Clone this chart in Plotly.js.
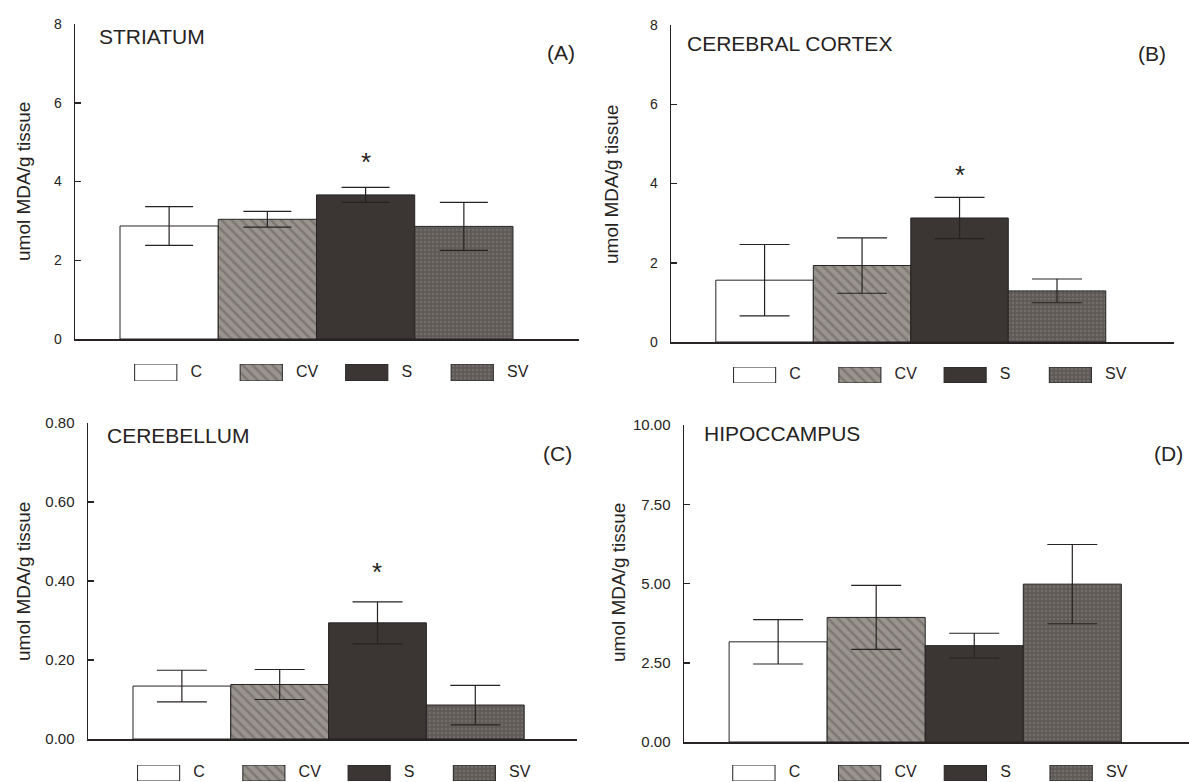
<!DOCTYPE html>
<html>
<head>
<meta charset="utf-8">
<script src="https://cdn.plot.ly/plotly-3.0.1.min.js"></script>
<style>html,body{margin:0;padding:0;background:#fff;}#chart{width:1189px;height:782px;}</style>
</head>
<body>
<div id="chart"></div>
<script>
// ---- data ----
const groups = ['C', 'CV', 'S', 'SV'];
const striatumMean = [2.87, 3.04, 3.66, 2.86];
const striatumErr = [0.49, 0.20, 0.19, 0.61];
const cortexMean = [1.56, 1.93, 3.13, 1.29];
const cortexErr = [0.90, 0.70, 0.52, 0.30];
const cerebellumMean = [0.134, 0.138, 0.294, 0.086];
const cerebellumErr = [0.040, 0.038, 0.053, 0.050];
const hippocampusMean = [3.16, 3.93, 3.04, 4.98];
const hippocampusErr = [0.70, 1.01, 0.39, 1.25];
// significance marks (y value of "*" per group, null = none)
const striatumStar = [null, null, 4.6, null];
const cortexStar = [null, null, 4.31, null];
const cerebellumStar = [null, null, 0.432, null];
const hippocampusStar = [null, null, null, null];
const panelNames = ['STRIATUM', 'CEREBRAL CORTEX', 'CEREBELLUM', 'HIPOCCAMPUS'];
const panelTags = ['(A)', '(B)', '(C)', '(D)'];
const yTitle = 'umol MDA/g tissue';

// ---- styles ----
const W = 1189, H = 782;
const FONT = 'Liberation Sans, Arial, Helvetica, sans-serif';
const INK = '#262322';
const groupStyle = [
  {color: '#ffffff', pattern: {shape: ''}},
  {color: '#8f8984', pattern: {shape: '\\', fgcolor: '#5f5a56', bgcolor: '#9a948f', size: 7, solidity: 0.35, fillmode: 'overlay'}},
  {color: '#3b3634', pattern: {shape: ''}},
  {color: '#65605c', pattern: {shape: '.', fgcolor: '#85807b', bgcolor: '#5f5a56', size: 4, solidity: 0.3, fillmode: 'overlay'}}
];

const px = v => v / W;
const py = v => 1 - v / H;

const panels = [
  {mean: striatumMean, err: striatumErr, star: striatumStar, box: [75, 579, 24, 339], xr: [-0.958, 4.172], yr: [0, 8], dtick: 2, fmt: 'd', tfs: 14,
   title: [97, 37], tag: [561, 52], yt: [23, 182], leg: [103, 525, 364, 381], cap: 24},
  {mean: cortexMean, err: cortexErr, star: cortexStar, box: [671, 1174, 25, 342], xr: [-0.96, 4.2], yr: [0, 8], dtick: 2, fmt: 'd', tfs: 14,
   title: [685, 43], tag: [1152, 53], yt: [611, 185], leg: [702, 1123, 367, 383], cap: 25},
  {mean: cerebellumMean, err: cerebellumErr, star: cerebellumStar, box: [88, 577, 423, 739], xr: [-0.96, 4.04], yr: [0, 0.8], dtick: 0.2, fmt: '.2f', tfs: 15,
   title: [105, 435], tag: [557, 453], yt: [23, 582], leg: [106, 527, 765, 781], cap: 25},
  {mean: hippocampusMean, err: hippocampusErr, star: hippocampusStar, box: [684, 1189, 425, 742], xr: [-0.96, 4.19], yr: [0, 10], dtick: 2.5, fmt: '.2f', tfs: 15,
   title: [702, 433], tag: [1168, 453], yt: [618, 583], leg: [701, 1124, 765, 781], cap: 25}
];

const traces = [];
const layout = {
  width: W, height: H,
  margin: {l: 0, r: 0, t: 0, b: 0},
  paper_bgcolor: '#ffffff', plot_bgcolor: 'rgba(0,0,0,0)',
  font: {family: FONT, color: INK},
  showlegend: false,
  barmode: 'overlay',
  annotations: []
};

panels.forEach((p, k) => {
  const n = k + 1;
  const xa = n === 1 ? 'x' : 'x' + n;
  const ya = n === 1 ? 'y' : 'y' + n;
  const xk = n === 1 ? 'xaxis' : 'xaxis' + n;
  const yk = n === 1 ? 'yaxis' : 'yaxis' + n;
  const ln = n + 4;
  const lxa = 'x' + ln, lya = 'y' + ln;

  groups.forEach((g, i) => {
    const st = groupStyle[i];
    traces.push({
      type: 'bar', name: g, x: [i], y: [p.mean[i]], width: 1, xaxis: xa, yaxis: ya,
      marker: {color: st.color, line: {color: INK, width: 1}, pattern: st.pattern},
      error_y: {type: 'data', array: [p.err[i]], visible: true, color: INK, thickness: 1.2, width: p.cap},
      hoverinfo: 'none'
    });
    // legend swatch
    traces.push({
      type: 'bar', name: g, x: [i], y: [1], width: 0.4, xaxis: lxa, yaxis: lya,
      marker: {color: st.color, line: {color: INK, width: 1}, pattern: st.pattern},
      hoverinfo: 'none'
    });
  });

  // significance stars
  p.star.forEach((v, i) => {
    if (v === null) return;
    layout.annotations.push({xref: xa, yref: ya, x: i, y: v, text: '*', showarrow: false,
      font: {size: 26, family: FONT, color: INK}, xanchor: 'center', yanchor: 'middle', yshift: -4});
  });

  layout[xk] = {
    domain: [px(p.box[0]), px(p.box[1])], range: p.xr, anchor: ya,
    showline: true, linecolor: INK, linewidth: 1.5, showticklabels: false, ticks: '',
    showgrid: false, zeroline: false, fixedrange: true
  };
  layout[yk] = {
    domain: [py(p.box[3]), py(p.box[2])], range: p.yr, anchor: xa,
    showline: true, linecolor: INK, linewidth: 1.5, ticks: 'inside', ticklen: 6, tickwidth: 1.5, tickcolor: INK,
    tick0: 0, dtick: p.dtick, tickformat: p.fmt, ticklabelstandoff: 9,
    tickfont: {size: p.tfs, family: FONT, color: INK},
    showgrid: false, zeroline: false, fixedrange: true
  };

  // panel title, tag and y title
  layout.annotations.push({xref: 'paper', yref: 'paper', x: px(p.title[0]), y: py(p.title[1]), text: panelNames[k],
    showarrow: false, xanchor: 'left', yanchor: 'middle', font: {size: 21, family: FONT, color: INK}});
  layout.annotations.push({xref: 'paper', yref: 'paper', x: px(p.tag[0]), y: py(p.tag[1]), text: panelTags[k],
    showarrow: false, xanchor: 'center', yanchor: 'middle', font: {size: 21, family: FONT, color: INK}});
  layout.annotations.push({xref: 'paper', yref: 'paper', x: px(p.yt[0]), y: py(p.yt[1]), text: yTitle, textangle: -90,
    showarrow: false, xanchor: 'center', yanchor: 'middle', font: {size: 19, family: FONT, color: INK}});

  // legend labels
  traces.push({
    type: 'scatter', mode: 'text', x: groups.map((g, i) => i + 0.33), y: groups.map(() => 0.5), text: groups,
    textposition: 'middle right', textfont: {size: 16, family: FONT, color: INK},
    xaxis: lxa, yaxis: lya, cliponaxis: false, hoverinfo: 'none'
  });
  layout['xaxis' + ln] = {domain: [px(p.leg[0]), px(p.leg[1])], range: [-0.5, 3.5], anchor: lya, visible: false, fixedrange: true};
  layout['yaxis' + ln] = {domain: [py(p.leg[3]), py(p.leg[2])], range: [0, 1], anchor: lxa, visible: false, fixedrange: true};
});

Plotly.newPlot('chart', traces, layout, {staticPlot: true, displayModeBar: false});
</script>
</body>
</html>
